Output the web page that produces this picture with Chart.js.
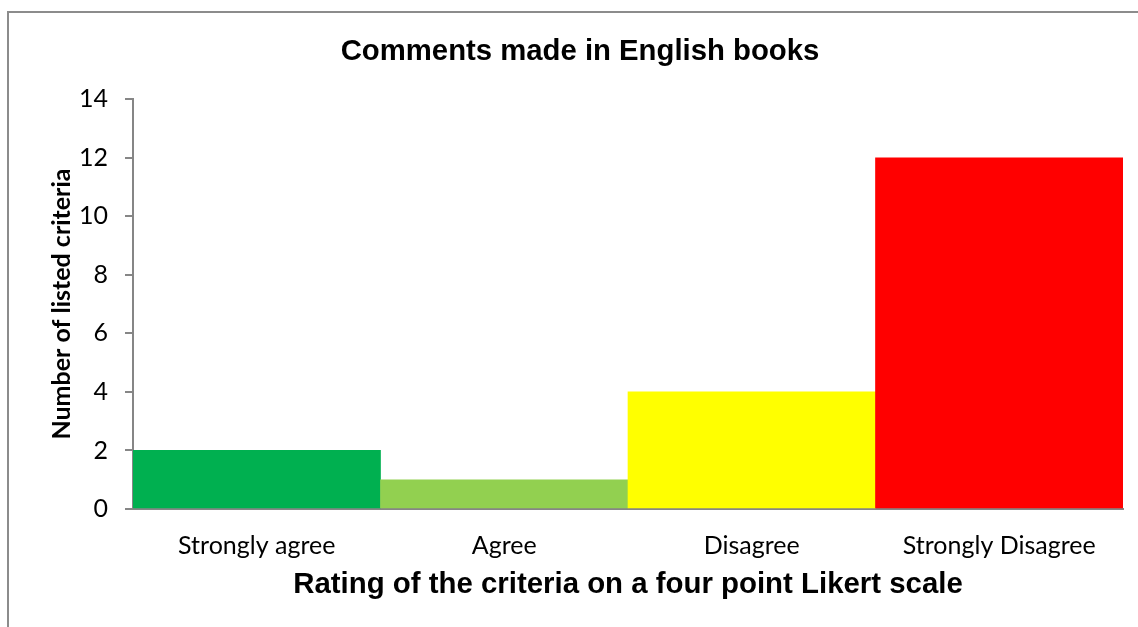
<!DOCTYPE html>
<html>
<head>
<meta charset="utf-8">
<script src="https://cdn.jsdelivr.net/npm/chart.js@4/dist/chart.umd.min.js"></script>
<style>
  html, body { margin: 0; padding: 0; background: #fff; overflow: hidden; width: 1138px; height: 627px; }
  #frame { position: absolute; left: 7px; top: 11px; width: 1200px; height: 700px; border: 2px solid #8c8c8c; box-sizing: border-box; }
  #c { position: absolute; left: 0; top: 0; }
</style>
</head>
<body>
<div id="frame"></div>
<canvas id="c" width="1138" height="627"></canvas>
<script>
const categories = ["Strongly agree", "Agree", "Disagree", "Strongly Disagree"];
const values = [2, 1, 4, 12];
const barColors = ["#00B050", "#92D050", "#FFFF00", "#FF0000"];
const yTicks = [0, 2, 4, 6, 8, 10, 12, 14];
const chartTitle = "Comments made in English books";
const xTitle = "Rating of the criteria on a four point Likert scale";
const yTitle = "Number of listed criteria";

const axisGray = "#868686";
const tickFont = { family: "Lato", size: 25 };

new Chart(document.getElementById("c"), {
  type: "bar",
  data: {
    labels: categories,
    datasets: [{
      data: values,
      backgroundColor: barColors,
      borderWidth: 0,
      categoryPercentage: 1.0,
      barPercentage: 1.0
    }]
  },
  options: {
    responsive: false,
    animation: false,
    devicePixelRatio: 1,
    layout: { padding: { left: 37, top: 0, right: 15, bottom: 18 } },
    plugins: {
      legend: { display: false },
      tooltip: { enabled: false },
      title: {
        display: true,
        text: chartTitle,
        color: "#000",
        font: { family: "Liberation Sans", size: 29.3, weight: "bold" },
        padding: { top: 34.5, bottom: 29.5 }
      }
    },
    scales: {
      x: {
        z: 1,
        grid: { display: false },
        border: { display: true, color: axisGray, width: 2 },
        ticks: { color: "#000", font: tickFont, padding: 14, maxRotation: 0 },
        title: {
          display: true,
          text: xTitle,
          color: "#000",
          font: { family: "Liberation Sans", size: 29.4, weight: "bold" },
          padding: { top: 0, bottom: 6 }
        },
        afterFit: (s) => { s.height = 100; }
      },
      y: {
        z: 1,
        min: 0,
        max: 14,
        afterBuildTicks: (s) => { s.ticks = yTicks.map(v => ({ value: v })); },
        grid: { display: true, drawOnChartArea: false, drawTicks: true, tickLength: 8, color: axisGray, lineWidth: 2 },
        border: { display: true, color: axisGray, width: 2 },
        ticks: { color: "#000", font: tickFont, padding: 17 },
        title: {
          display: true,
          text: yTitle,
          color: "#000",
          font: { family: "Lato", size: 25, weight: "bold" },
          padding: { top: 10, bottom: 0 }
        },
        afterFit: (s) => { s.width = 96; }
      }
    }
  }
});
</script>
</body>
</html>
